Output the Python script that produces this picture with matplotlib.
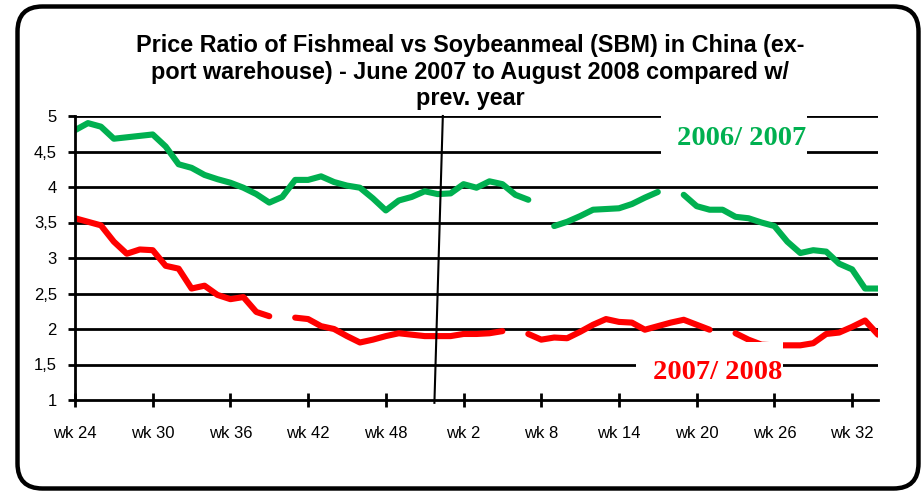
import numpy as np
import matplotlib
matplotlib.use("Agg")
import matplotlib.pyplot as plt
from matplotlib.patches import FancyBboxPatch, Rectangle
from matplotlib.transforms import IdentityTransform

nan = np.nan

# week labels (wk 24 of 2007 ... wk 34 of 2008)
weeks = [f"wk {w}" for w in list(range(24, 53)) + list(range(1, 35))]

tick_idx = [0, 6, 12, 18, 24, 30, 36, 42, 48, 54, 60]
tick_labels = ["wk 24", "wk 30", "wk 36", "wk 42", "wk 48", "wk 2",
               "wk 8", "wk 14", "wk 20", "wk 26", "wk 32"]

y_ticks = [1, 1.5, 2, 2.5, 3, 3.5, 4, 4.5, 5]
y_tick_labels = ["1", "1,5", "2", "2,5", "3", "3,5", "4", "4,5", "5"]

ratio_2006_2007 = [
    4.80, 4.90, 4.85, 4.68, 4.70, 4.72, 4.74, 4.57, 4.32, 4.27,
    4.17, 4.11, 4.06, 3.99, 3.90, 3.78, 3.86, 4.10, 4.10, 4.15,
    4.07, 4.02, 3.99, 3.84, 3.67, 3.81, 3.86, 3.94, 3.90, 3.91,
    4.04, 3.99, 4.08, 4.04, 3.89, 3.82, nan, 3.45, 3.51, 3.59,
    3.68, 3.69, 3.70, 3.76, 3.85, 3.93, nan, 3.89, 3.73, 3.68,
    3.68, 3.58, 3.56, 3.50, 3.45, 3.23, 3.07, 3.11, 3.09, 2.92,
    2.84, 2.57, 2.57,
]

ratio_2007_2008 = [
    3.56, 3.51, 3.46, 3.23, 3.06, 3.12, 3.11, 2.89, 2.85, 2.57,
    2.61, 2.48, 2.42, 2.45, 2.24, 2.18, nan, 2.16, 2.14, 2.04,
    2.00, 1.90, 1.81, 1.85, 1.90, 1.94, 1.92, 1.90, 1.90, 1.90,
    1.93, 1.93, 1.94, 1.97, nan, 1.93, 1.85, 1.88, 1.87, 1.96,
    2.06, 2.14, 2.10, 2.09, 1.99, 2.04, 2.09, 2.13, 2.06, 1.99,
    nan, 1.94, 1.85, 1.78, 1.77, 1.77, 1.77, 1.80, 1.93, 1.95,
    2.03, 2.12, 1.92,
]

title = ("Price Ratio of Fishmeal vs Soybeanmeal (SBM) in China (ex-\n"
         "port warehouse) - June 2007 to August 2008 compared w/\n"
         "prev. year")

GREEN = "#00B050"
RED = "#FF0000"

fig = plt.figure(figsize=(9.24, 4.92), dpi=100)
ax = fig.add_axes([75 / 924, 1 - 400 / 492, (878 - 75) / 924, (400 - 116) / 492])

x = np.arange(len(weeks))

# gridlines
for yv in y_ticks[1:]:
    ax.axhline(yv, color="black", lw=2.0, zorder=1)

ax.plot(x, ratio_2006_2007, color=GREEN, lw=4.4, solid_capstyle="round",
        solid_joinstyle="round", zorder=3)
ax.plot(x, ratio_2007_2008, color=RED, lw=4.4, solid_capstyle="round",
        solid_joinstyle="round", zorder=3)

ax.set_xlim(0, len(weeks) - 1)
ax.set_ylim(1, 5)

ax.set_xticks(tick_idx)
ax.set_xticklabels(tick_labels, fontsize=12, fontfamily="Liberation Sans")
ax.set_yticks(y_ticks)
ax.set_yticklabels(y_tick_labels, fontsize=12, fontfamily="Liberation Sans")

ax.tick_params(axis="x", direction="inout", length=10, width=2, pad=14)
ax.tick_params(axis="y", direction="out", length=5, width=2, pad=8)

for s in ["top", "right"]:
    ax.spines[s].set_visible(False)
ax.spines["left"].set_linewidth(2)
ax.spines["bottom"].set_linewidth(2)
ax.spines["left"].set_zorder(4)
ax.spines["bottom"].set_zorder(4)

# white label boxes covering lines
ax.add_patch(Rectangle((45.25, 4.24), 11.3, 1.0, facecolor="white",
                       edgecolor="none", zorder=5, clip_on=False))
ax.add_patch(Rectangle((43.3, 1.14), 11.4, 0.677, facecolor="white",
                       edgecolor="none", zorder=5, clip_on=False))

ax.text(46.46, 4.59, "2006/ 2007", color=GREEN, fontsize=20.5,
        fontfamily="Liberation Serif", fontweight="bold", ha="left",
        va="baseline", zorder=6)
ax.text(44.6, 1.296, "2007/ 2008", color=RED, fontsize=20.5,
        fontfamily="Liberation Serif", fontweight="bold", ha="left",
        va="baseline", zorder=6)

# year separator line
ax.plot([28.4, 27.75], [5, 0.96], color="black", lw=1.5, zorder=4,
        clip_on=False)

fig.text(470 / 924, 1 - 72 / 492, title, ha="center", va="center",
         fontsize=16.8, fontfamily="Liberation Sans", fontweight="bold",
         linespacing=1.18)

# rounded frame
frame = FancyBboxPatch((17.5, 3.5), 901, 482,
                       boxstyle="round,pad=0,rounding_size=25",
                       transform=IdentityTransform(), facecolor="none",
                       edgecolor="black", lw=3.2)
fig.patches.append(frame)

fig.savefig("out.png", dpi=100)
